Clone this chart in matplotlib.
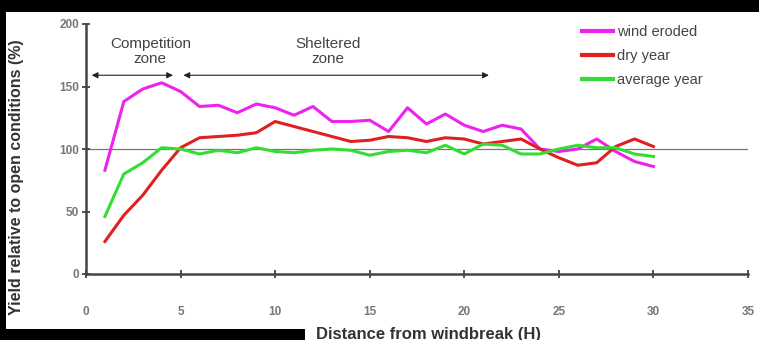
import matplotlib.pyplot as plt
from matplotlib.patches import Rectangle

plt.rcParams['font.family'] = ['Liberation Sans', 'DejaVu Sans']

# distance from windbreak in tree heights
dist = list(range(1, 31))

wind_eroded = [83, 138, 148, 153, 146, 134, 135, 129, 136, 133,
               127, 134, 122, 122, 123, 114, 133, 120, 128, 119,
               114, 119, 116, 100, 98, 100, 108, 98, 90, 86]
dry_year = [26, 47, 63, 83, 101, 109, 110, 111, 113, 122,
            118, 114, 110, 106, 107, 110, 109, 106, 109, 108,
            104, 106, 108, 100, 93, 87, 89, 102, 108, 102]
average_year = [46, 80, 89, 101, 100, 96, 99, 97, 101, 98,
                97, 99, 100, 99, 95, 98, 99, 97, 103, 96,
                104, 103, 96, 96, 100, 103, 101, 101, 96, 94]

xticks = [0, 5, 10, 15, 20, 25, 30, 35]
yticks = [0, 50, 100, 150, 200]

W, H = 759, 340
fig = plt.figure(figsize=(W / 100, H / 100), dpi=100)
fig.patch.set_facecolor('black')
fig.patches.append(Rectangle((6 / W, 0), 1, (H - 12) / H, transform=fig.transFigure,
                             facecolor='white', edgecolor='none', zorder=-2))
fig.patches.append(Rectangle((0, 0), 305 / W, 11 / H, transform=fig.transFigure,
                             facecolor='black', edgecolor='none', zorder=-1))

ax = fig.add_axes([86 / W, (H - 274) / H, (748 - 86) / W, 250 / H])
ax.patch.set_visible(False)

ax.axhline(100, color='#777777', lw=0.9, zorder=1)
ax.plot(dist, wind_eroded, color='#ee22ee', lw=2.2, label='wind eroded', zorder=3)
ax.plot(dist, dry_year, color='#e02020', lw=2.2, label='dry year', zorder=3)
ax.plot(dist, average_year, color='#33dd33', lw=2.2, label='average year', zorder=3)

ax.set_xlim(0, 35)
ax.set_ylim(0, 200)
ax.set_xticks(xticks)
ax.set_yticks(yticks)
for side in ['top', 'right']:
    ax.spines[side].set_visible(False)
for side in ['left', 'bottom']:
    ax.spines[side].set_color('#444444')
    ax.spines[side].set_linewidth(1.8)
ax.tick_params(axis='both', direction='inout', length=6, width=1.2, color='#333333',
               labelsize=8.5, labelcolor='#777777')
ax.tick_params(axis='x', pad=20)
ax.tick_params(axis='y', pad=2)
for lbl in ax.get_xticklabels() + ax.get_yticklabels():
    lbl.set_fontweight('bold')

# zone arrows
arrow = dict(arrowstyle='<|-|>', color='#222222', lw=0.8, mutation_scale=9,
             shrinkA=0, shrinkB=0)
ax.annotate('', xy=(0.3, 159), xytext=(4.6, 159), arrowprops=arrow)
ax.annotate('', xy=(5.15, 159), xytext=(21.3, 159), arrowprops=arrow)
ax.text(3.4, 178, 'Competition\nzone', ha='center', va='center', fontsize=11,
        color='#444444', linespacing=1.05)
ax.text(12.8, 178, 'Sheltered\nzone', ha='center', va='center', fontsize=11,
        color='#444444', linespacing=1.05)

leg = ax.legend(loc='upper left', bbox_to_anchor=(582 / W, (H - 25) / H),
                bbox_transform=fig.transFigure, frameon=False, fontsize=10.5,
                handlelength=2.1, handletextpad=0.3, labelspacing=0.7,
                borderpad=0, borderaxespad=0)
for line in leg.get_lines():
    line.set_linewidth(3)
for t in leg.get_texts():
    t.set_color('#444444')

fig.text(17 / W, (H - 177) / H, 'Yield relative to open conditions (%)', rotation=90,
         ha='center', va='center', fontsize=11.5, fontweight='bold', color='#333333')
fig.text(429 / W, (H - 334) / H, 'Distance from windbreak (H)', ha='center',
         va='center', fontsize=12, fontweight='bold', color='#333333')

fig.savefig('out.png', dpi=100, facecolor=fig.get_facecolor())
